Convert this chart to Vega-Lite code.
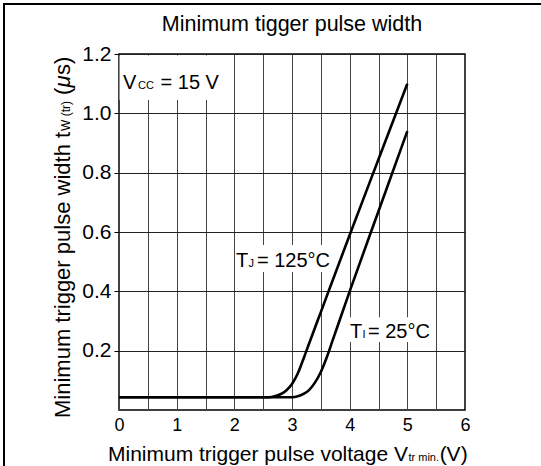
{
  "$schema": "https://vega.github.io/schema/vega-lite/v6.json",
  "width": 346,
  "height": 356,
  "autosize": {"type": "none"},
  "padding": {"left": 119, "top": 54, "right": 76, "bottom": 56},
  "background": "white",
  "config": {
    "view": {"stroke": "black", "strokeWidth": 1.5},
    "font": "Liberation Sans",
    "text": {"font": "Liberation Sans", "color": "black", "align": "left", "baseline": "alphabetic"}
  },
  "layer": [
    {
      "data": {"values": [{}]},
      "mark": {"type": "rect", "fillOpacity": 0, "stroke": "black", "strokeWidth": 2},
      "encoding": {
        "x": {"datum": -1.994, "type": "quantitative", "scale": {"domain": [0, 6], "nice": false}, "title": null,
              "axis": {"tickCount": 12, "labelExpr": "datum.value % 1 === 0 ? format(datum.value, 'd') : ''", "ticks": false, "domain": false, "grid": true, "gridColor": "#444", "gridWidth": 1, "gridOpacity": 1, "labelFontSize": 18, "labelColor": "black", "labelPadding": 6, "labelFont": "Liberation Sans", "labelFlush": false, "labelOverlap": false}},
        "x2": {"datum": 8},
        "y": {"datum": 1.3685, "type": "quantitative", "scale": {"domain": [0, 1.2], "nice": false}, "title": null,
              "axis": {"values": [0.2, 0.4, 0.6, 0.8, 1.0, 1.2], "format": ".1f", "ticks": true, "tickSize": 5, "tickColor": "black", "domain": false, "grid": true, "gridColor": "#222", "gridWidth": 1, "gridOpacity": 1, "labelFontSize": 21, "labelColor": "black", "labelPadding": 3, "labelFont": "Liberation Sans", "labelOverlap": false}},
        "y2": {"datum": -0.3}
      }
    },
    {
      "data": {"values": [{"box": "vcc", "x0": 0.01, "x1": 1.95, "y0": 1.045, "y1": 1.195}, {"box": "tj", "x0": 2.02, "x1": 3.7, "y0": 0.465, "y1": 0.556}, {"box": "ti", "x0": 3.95, "x1": 5.43, "y0": 0.229, "y1": 0.313}]},
      "mark": {"type": "rect", "fill": "white", "stroke": null},
      "encoding": {
        "x": {"field": "x0", "type": "quantitative", "scale": {"domain": [0, 6], "nice": false}, "title": null},
        "x2": {"field": "x1"},
        "y": {"field": "y0", "type": "quantitative", "scale": {"domain": [0, 1.2], "nice": false}, "title": null},
        "y2": {"field": "y1"}
      }
    },
    {
      "data": {"values": [
        {"series": "125", "v": 0, "w": 0.043},
        {"series": "125", "v": 2.6, "w": 0.043},
        {"series": "125", "v": 2.7, "w": 0.046},
        {"series": "125", "v": 2.8, "w": 0.053},
        {"series": "125", "v": 2.9, "w": 0.066},
        {"series": "125", "v": 3.0, "w": 0.088},
        {"series": "125", "v": 3.1, "w": 0.123},
        {"series": "125", "v": 3.2, "w": 0.173},
        {"series": "125", "v": 3.3, "w": 0.226},
        {"series": "125", "v": 3.5, "w": 0.33},
        {"series": "125", "v": 4.0, "w": 0.59},
        {"series": "125", "v": 4.5, "w": 0.845},
        {"series": "125", "v": 5.0, "w": 1.10},
        {"series": "25", "v": 0, "w": 0.043},
        {"series": "25", "v": 3.0, "w": 0.043},
        {"series": "25", "v": 3.1, "w": 0.046},
        {"series": "25", "v": 3.2, "w": 0.054},
        {"series": "25", "v": 3.3, "w": 0.068},
        {"series": "25", "v": 3.4, "w": 0.093},
        {"series": "25", "v": 3.5, "w": 0.128},
        {"series": "25", "v": 3.6, "w": 0.176},
        {"series": "25", "v": 3.7, "w": 0.232},
        {"series": "25", "v": 4.0, "w": 0.40},
        {"series": "25", "v": 4.5, "w": 0.67},
        {"series": "25", "v": 5.0, "w": 0.94}
      ]},
      "mark": {"type": "line", "color": "black", "strokeWidth": 2.6, "interpolate": "monotone"},
      "encoding": {
        "x": {"field": "v", "type": "quantitative", "scale": {"domain": [0, 6], "nice": false}, "title": null},
        "y": {"field": "w", "type": "quantitative", "scale": {"domain": [0, 1.2], "nice": false}, "title": null},
        "detail": {"field": "series"}
      }
    },
    {"data": {"values": [{}]}, "mark": {"type": "text", "text": "Minimum tigger pulse width", "fontSize": 21.5, "align": "center"},
     "encoding": {"x": {"datum": 3, "type": "quantitative"}, "y": {"datum": 1.2775, "type": "quantitative"}}},
    {"data": {"values": [{}]}, "mark": {"type": "text", "text": "V", "fontSize": 20},
     "encoding": {"x": {"datum": 0.07, "type": "quantitative"}, "y": {"datum": 1.082, "type": "quantitative"}}},
    {"data": {"values": [{}]}, "mark": {"type": "text", "text": "CC", "fontSize": 11},
     "encoding": {"x": {"datum": 0.33, "type": "quantitative"}, "y": {"datum": 1.082, "type": "quantitative"}}},
    {"data": {"values": [{}]}, "mark": {"type": "text", "text": "= 15 V", "fontSize": 20},
     "encoding": {"x": {"datum": 0.72, "type": "quantitative"}, "y": {"datum": 1.082, "type": "quantitative"}}},
    {"data": {"values": [{}]}, "mark": {"type": "text", "text": "T", "fontSize": 20},
     "encoding": {"x": {"datum": 2.029, "type": "quantitative"}, "y": {"datum": 0.482, "type": "quantitative"}}},
    {"data": {"values": [{}]}, "mark": {"type": "text", "text": "J", "fontSize": 11},
     "encoding": {"x": {"datum": 2.245, "type": "quantitative"}, "y": {"datum": 0.482, "type": "quantitative"}}},
    {"data": {"values": [{}]}, "mark": {"type": "text", "text": "= 125°C", "fontSize": 20},
     "encoding": {"x": {"datum": 2.393, "type": "quantitative"}, "y": {"datum": 0.482, "type": "quantitative"}}},
    {"data": {"values": [{}]}, "mark": {"type": "text", "text": "T", "fontSize": 20},
     "encoding": {"x": {"datum": 4.006, "type": "quantitative"}, "y": {"datum": 0.2427, "type": "quantitative"}}},
    {"data": {"values": [{}]}, "mark": {"type": "text", "text": "I", "fontSize": 11},
     "encoding": {"x": {"datum": 4.222, "type": "quantitative"}, "y": {"datum": 0.2427, "type": "quantitative"}}},
    {"data": {"values": [{}]}, "mark": {"type": "text", "text": "= 25°C", "fontSize": 20},
     "encoding": {"x": {"datum": 4.318, "type": "quantitative"}, "y": {"datum": 0.2427, "type": "quantitative"}}},
    {"data": {"values": [{}]}, "mark": {"type": "text", "text": "Minimum trigger pulse voltage V", "fontSize": 21},
     "encoding": {"x": {"datum": -0.1907, "type": "quantitative"}, "y": {"datum": -0.1719, "type": "quantitative"}}},
    {"data": {"values": [{}]}, "mark": {"type": "text", "text": "tr min.", "fontSize": 11},
     "encoding": {"x": {"datum": 5.02, "type": "quantitative"}, "y": {"datum": -0.1719, "type": "quantitative"}}},
    {"data": {"values": [{}]}, "mark": {"type": "text", "text": "(V)", "fontSize": 21},
     "encoding": {"x": {"datum": 5.56, "type": "quantitative"}, "y": {"datum": -0.1719, "type": "quantitative"}}},
    {"data": {"values": [{}]}, "mark": {"type": "text", "text": "Minimum trigger pulse width t", "fontSize": 22, "angle": 270},
     "encoding": {"x": {"datum": -0.8497, "type": "quantitative"}, "y": {"datum": -0.027, "type": "quantitative"}}},
    {"data": {"values": [{}]}, "mark": {"type": "text", "text": "W (tr)", "fontSize": 12, "angle": 270},
     "encoding": {"x": {"datum": -0.8497, "type": "quantitative"}, "y": {"datum": 0.9404, "type": "quantitative"}}},
    {"data": {"values": [{}]}, "mark": {"type": "text", "text": "(", "fontSize": 22, "angle": 270},
     "encoding": {"x": {"datum": -0.8497, "type": "quantitative"}, "y": {"datum": 1.0616, "type": "quantitative"}}},
    {"data": {"values": [{}]}, "mark": {"type": "text", "text": "μ", "fontSize": 22, "fontStyle": "italic", "angle": 270},
     "encoding": {"x": {"datum": -0.8497, "type": "quantitative"}, "y": {"datum": 1.0867, "type": "quantitative"}}},
    {"data": {"values": [{}]}, "mark": {"type": "text", "text": "s)", "fontSize": 22, "angle": 270},
     "encoding": {"x": {"datum": -0.8497, "type": "quantitative"}, "y": {"datum": 1.1292, "type": "quantitative"}}}
  ]
}
